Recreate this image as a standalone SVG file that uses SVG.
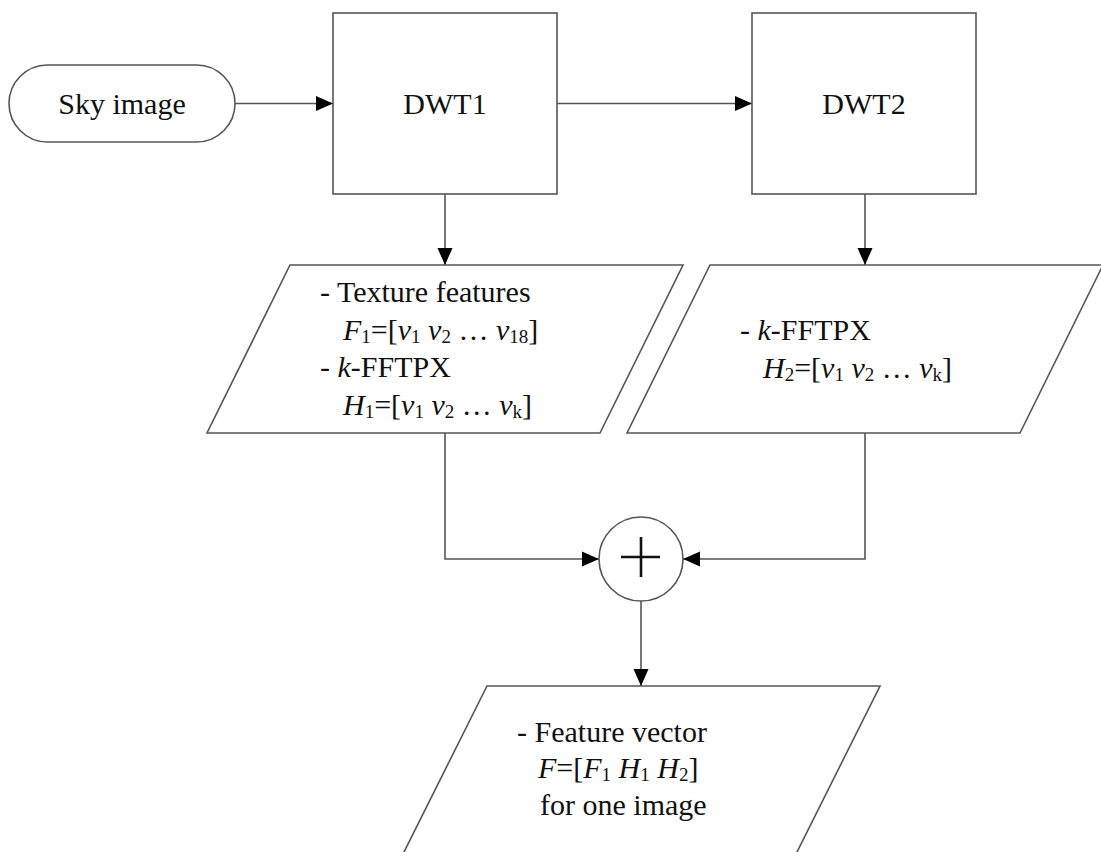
<svg xmlns="http://www.w3.org/2000/svg" width="1101" height="852" viewBox="0 0 1101 852">
<style>
.shape{fill:#fff;stroke:#555;stroke-width:1.6}
.conn{fill:none;stroke:#555;stroke-width:1.6}
text{font-family:"Liberation Serif","Times New Roman",serif;font-size:30px;fill:#111}
.i{font-style:italic}
.s{font-size:19px}
.plus{stroke:#111;stroke-width:2.6;fill:none}
</style>
<defs>
<marker id="arr" markerUnits="userSpaceOnUse" markerWidth="17" markerHeight="16" refX="17" refY="8" orient="auto">
<path d="M0,0.5 L17,8 L0,15.5 z" fill="#000"/>
</marker>
</defs>
<rect width="1101" height="852" fill="#fff"/>
<g id="connectors">
<line class="conn" x1="235" y1="103.5" x2="333" y2="103.5" marker-end="url(#arr)"/>
<line class="conn" x1="557" y1="103.5" x2="752" y2="103.5" marker-end="url(#arr)"/>
<line class="conn" x1="445" y1="194" x2="445" y2="265" marker-end="url(#arr)"/>
<line class="conn" x1="865" y1="194" x2="865" y2="265" marker-end="url(#arr)"/>
<polyline class="conn" points="445,433 445,559 599,559" marker-end="url(#arr)"/>
<polyline class="conn" points="865,433 865,559 683,559" marker-end="url(#arr)"/>
<line class="conn" x1="641" y1="601" x2="641" y2="686" marker-end="url(#arr)"/>
</g>
<g id="sky">
<rect class="shape" x="9" y="65" width="226" height="77" rx="38.5"/>
<text x="122" y="113.5" text-anchor="middle">Sky image</text>
</g>
<g id="dwt1">
<rect class="shape" x="333" y="13" width="224" height="181"/>
<text x="445" y="113.5" text-anchor="middle">DWT1</text>
</g>
<g id="dwt2">
<rect class="shape" x="752" y="13" width="224" height="181"/>
<text x="864" y="113.5" text-anchor="middle">DWT2</text>
</g>
<g id="features1">
<polygon class="shape" points="290,265 683,265 600,433 207,433"/>
<text x="320" y="302">- Texture features</text>
<text x="343" y="340"><tspan class="i">F</tspan><tspan class="s" dy="3">1</tspan><tspan dy="-3">=[</tspan><tspan class="i">v</tspan><tspan class="s" dy="3">1</tspan><tspan dy="-3"> </tspan><tspan class="i">v</tspan><tspan class="s" dy="3">2</tspan><tspan dy="-3"> … </tspan><tspan class="i">v</tspan><tspan class="s" dy="3">18</tspan><tspan dy="-3">]</tspan></text>
<text x="320" y="377">- <tspan class="i">k</tspan>-FFTPX</text>
<text x="343" y="415"><tspan class="i">H</tspan><tspan class="s" dy="3">1</tspan><tspan dy="-3">=[</tspan><tspan class="i">v</tspan><tspan class="s" dy="3">1</tspan><tspan dy="-3"> </tspan><tspan class="i">v</tspan><tspan class="s" dy="3">2</tspan><tspan dy="-3"> … </tspan><tspan class="i">v</tspan><tspan class="s" dy="3">k</tspan><tspan dy="-3">]</tspan></text>
</g>
<g id="features2">
<polygon class="shape" points="710,265 1103,265 1020,433 627,433"/>
<text x="740" y="340">- <tspan class="i">k</tspan>-FFTPX</text>
<text x="763" y="378"><tspan class="i">H</tspan><tspan class="s" dy="3">2</tspan><tspan dy="-3">=[</tspan><tspan class="i">v</tspan><tspan class="s" dy="3">1</tspan><tspan dy="-3"> </tspan><tspan class="i">v</tspan><tspan class="s" dy="3">2</tspan><tspan dy="-3"> … </tspan><tspan class="i">v</tspan><tspan class="s" dy="3">k</tspan><tspan dy="-3">]</tspan></text>
</g>
<g id="sum">
<circle class="shape" cx="641" cy="559" r="42"/>
<line class="plus" x1="621" y1="557" x2="660" y2="557"/>
<line class="plus" x1="641" y1="537" x2="641" y2="577"/>
</g>
<g id="output">
<polygon class="shape" points="487,686 880,686 793,860 400,860"/>
<text x="517" y="742">- Feature vector</text>
<text x="538" y="778"><tspan class="i">F</tspan>=[<tspan class="i">F</tspan><tspan class="s" dy="3">1</tspan><tspan dy="-3"> </tspan><tspan class="i">H</tspan><tspan class="s" dy="3">1</tspan><tspan dy="-3"> </tspan><tspan class="i">H</tspan><tspan class="s" dy="3">2</tspan><tspan dy="-3">]</tspan></text>
<text x="540" y="815">for one image</text>
</g>
</svg>
